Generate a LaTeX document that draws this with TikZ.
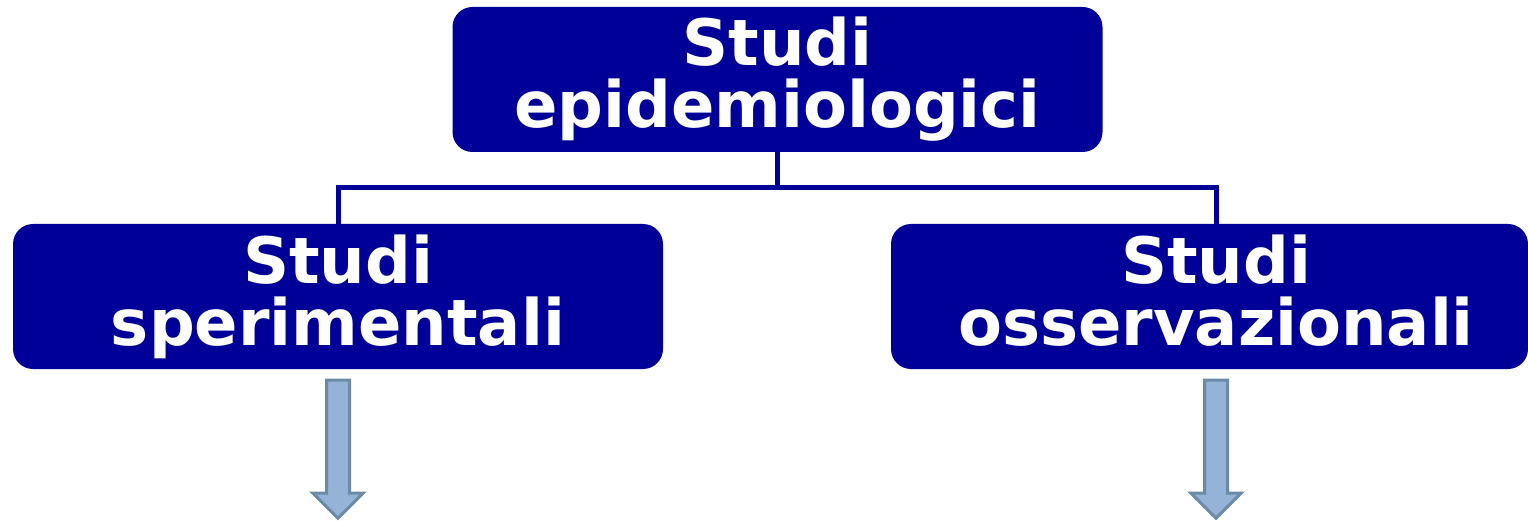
\documentclass[tikz,border=0pt]{standalone}
\usepackage{fontspec}
\setmainfont{DejaVu Sans}
\usetikzlibrary{calc}
\definecolor{navy}{RGB}{0,0,153}
\definecolor{arrowfill}{RGB}{149,179,215}
\definecolor{arrowedge}{RGB}{106,138,165}
\tikzset{
  box/.style={fill=navy, rounded corners=20pt, inner sep=0pt,
    minimum width=650pt, minimum height=145pt},
  boxtext/.style={text=white, align=center, inner sep=0pt,
    font=\fontsize{64}{62}\selectfont\bfseries},
  link/.style={draw=navy, line width=5pt},
  downarrow/.pic={
    \draw[fill=arrowfill, draw=arrowedge, line width=3pt, line join=miter]
      (-11.5,-11) -- (11.5,-11) -- (11.5,-124) -- (25,-124) -- (0,-149)
      -- (-25,-124) -- (-11.5,-124) -- cycle;
  }
}
\begin{document}
\begin{tikzpicture}[x=1pt, y=1pt]
  \useasboundingbox (0,0) rectangle (1528,-521);
  % top node
  \node[box, boxtext] (epi) at (777.5,-79.5) {Studi\\epidemiologici};
  % second level
  \node[box, boxtext] (sper) at (338,-296.5) {Studi\\sperimentali};
  \node[box, minimum width=637pt] (oss) at (1209.5,-296.5) {};
  \node[boxtext] (osstext) at (1216,-296.5) {Studi\\osservazionali\vphantom{p}};
  % tree connectors
  \coordinate (bus) at ($(epi.south)+(0,-35)$);
  \draw[link] (epi.south) -- (bus);
  \draw[link] (sper.north) |- (bus);
  \draw[link] (1216,0 |- oss.north) |- (bus);
  % arrows below the second level
  \pic at (sper.south) {downarrow};
  \pic at (1216,0 |- oss.south) {downarrow};
\end{tikzpicture}
\end{document}
